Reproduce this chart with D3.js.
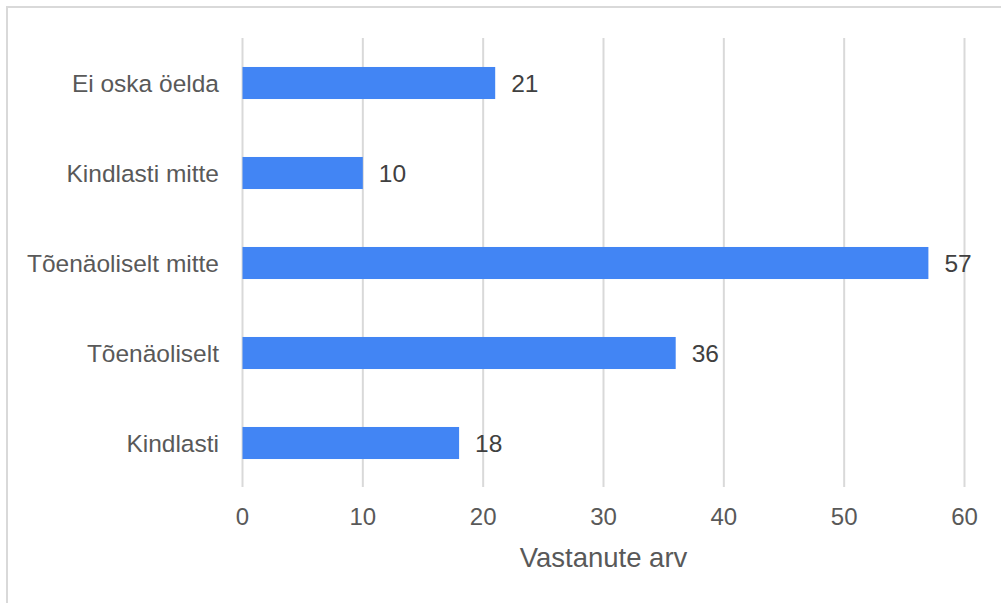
<!DOCTYPE html>
<html><head><meta charset="utf-8">
<script src="https://cdn.jsdelivr.net/npm/d3@7"></script>
<style>html,body{margin:0;padding:0;background:#fff;}svg{display:block;}</style>
</head><body>
<script>
const categories = ["Ei oska öelda", "Kindlasti mitte", "Tõenäoliselt mitte", "Tõenäoliselt", "Kindlasti"];
const values = [21, 10, 57, 36, 18];
const xTicks = [0, 10, 20, 30, 40, 50, 60];
const xTitle = "Vastanute arv";

const W = 1001, H = 603;
const svg = d3.select("body").append("svg").attr("width", W).attr("height", H);
const font = "'Liberation Sans', Arial, sans-serif";

// frame (top and left visible)
svg.append("path").attr("d", `M7,${H} L7,7 L${W},7`).attr("fill","none").attr("stroke","#d9d9d9").attr("stroke-width",2);

const x = d3.scaleLinear().domain([0, 60]).range([242.5, 964.5]);
const y = d3.scaleBand().domain(categories).range([38, 488]).paddingInner(0.644).paddingOuter(0.322);

// gridlines
svg.append("g").selectAll("line").data(xTicks).join("line")
  .attr("x1", d => x(d)).attr("x2", d => x(d))
  .attr("y1", 38).attr("y2", 487)
  .attr("stroke", "#d9d9d9").attr("stroke-width", 2);

// bars
svg.append("g").selectAll("rect").data(values).join("rect")
  .attr("x", x(0)).attr("y", (d, i) => y(categories[i]))
  .attr("width", d => x(d) - x(0)).attr("height", y.bandwidth())
  .attr("fill", "#4285f4");

// value labels
svg.append("g").selectAll("text").data(values).join("text")
  .attr("x", d => x(d) + 16).attr("y", (d, i) => y(categories[i]) + y.bandwidth() / 2)
  .attr("dy", "0.35em").attr("font-family", font).attr("font-size", 24.5)
  .attr("fill", "#404040").text(d => d);

// category labels
svg.append("g").selectAll("text").data(categories).join("text")
  .attr("x", 219).attr("y", d => y(d) + y.bandwidth() / 2)
  .attr("dy", "0.35em").attr("text-anchor", "end")
  .attr("font-family", font).attr("font-size", 24.5).attr("fill", "#595959").text(d => d);

// x tick labels
svg.append("g").selectAll("text").data(xTicks).join("text")
  .attr("x", d => x(d)).attr("y", 517).attr("dy", "0.35em").attr("text-anchor", "middle")
  .attr("font-family", font).attr("font-size", 24).attr("fill", "#595959").text(d => d);

// axis title
svg.append("text").attr("x", (x(0) + x(60)) / 2).attr("y", 557).attr("dy", "0.35em")
  .attr("text-anchor", "middle").attr("font-family", font).attr("font-size", 27.5)
  .attr("fill", "#595959").text(xTitle);
</script>
</body></html>
